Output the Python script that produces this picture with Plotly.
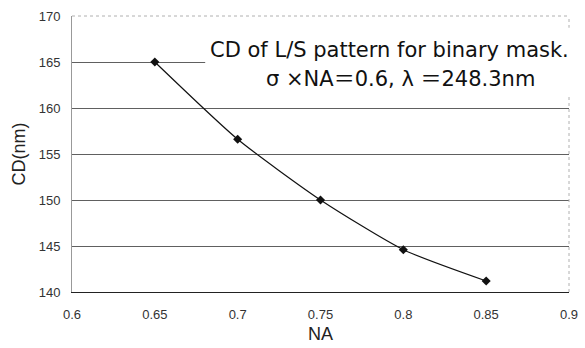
import plotly.graph_objects as go

na = [0.65, 0.70, 0.75, 0.80, 0.85]
cd = [165.0, 156.6, 150.0, 144.6, 141.2]
x_ticks = [0.6, 0.65, 0.7, 0.75, 0.8, 0.85, 0.9]
x_tick_text = ["0.6", "0.65", "0.7", "0.75", "0.8", "0.85", "0.9"]
y_ticks = [140, 145, 150, 155, 160, 165, 170]
title_line1 = "CD of L/S pattern for binary mask."
title_line2 = "σ ×NA＝0.6, λ ＝248.3nm"

fig = go.Figure()
fig.add_trace(go.Scatter(
    x=na, y=cd, mode="lines+markers",
    line=dict(color="#111111", width=1.2, shape="spline", smoothing=0.6),
    marker=dict(symbol="diamond", size=7, color="#111111"),
    showlegend=False,
))

fig.update_layout(
    width=585, height=348,
    margin=dict(l=72, r=16, t=16, b=56, autoexpand=False),
    paper_bgcolor="white", plot_bgcolor="white",
    font=dict(family="Liberation Sans, Arial, sans-serif", color="#222222"),
    xaxis=dict(
        range=[0.6, 0.9], tickvals=x_ticks, ticktext=x_tick_text,
        showgrid=False, zeroline=False, automargin=False,
        showline=True, linecolor="#222222", linewidth=1,
        ticks="outside", ticklen=10, tickcolor="rgba(0,0,0,0)",
        tickfont=dict(size=13, color="#333333"),
        title=dict(text="NA", font=dict(size=18, color="#222222"), standoff=6),
    ),
    yaxis=dict(
        range=[140, 170], tickvals=y_ticks,
        showgrid=True, gridcolor="#606060", gridwidth=1,
        zeroline=False, automargin=False,
        showline=True, linecolor="#999999", linewidth=1,
        ticks="outside", ticklen=8, tickcolor="rgba(0,0,0,0)",
        tickfont=dict(size=13, color="#333333"),
        title=dict(text="CD(nm)", font=dict(size=18, color="#222222"), standoff=8),
    ),
    shapes=[
        dict(type="line", xref="paper", yref="paper", x0=0, x1=1, y0=1, y1=1,
             line=dict(color="#b0b0b0", width=1, dash="dot"), layer="above"),
        dict(type="line", xref="paper", yref="paper", x0=1, x1=1, y0=0, y1=1,
             line=dict(color="#b0b0b0", width=1, dash="dot"), layer="above"),
        dict(type="rect", xref="paper", yref="paper", x0=0.268, x1=1.03,
             y0=0.707, y1=0.957, fillcolor="white", line=dict(width=0), layer="above"),
    ],
)

fig.add_annotation(
    xref="paper", yref="paper", x=(389 - 72) / 497, y=(292 - 50) / 276,
    text=title_line1, showarrow=False, xanchor="center", yanchor="middle",
    font=dict(family="DejaVu Sans, sans-serif", size=21, color="#111111"),
)
fig.add_annotation(
    xref="paper", yref="paper", x=(400 - 72) / 497, y=(292 - 79) / 276,
    text=title_line2, showarrow=False, xanchor="center", yanchor="middle",
    font=dict(family="DejaVu Sans, Noto Sans CJK JP, sans-serif", size=21, color="#111111"),
)

fig.write_html(
    "out.html",
    config={"displayModeBar": False},
    post_script="document.body.style.margin='0';document.body.style.overflow='hidden';",
)
